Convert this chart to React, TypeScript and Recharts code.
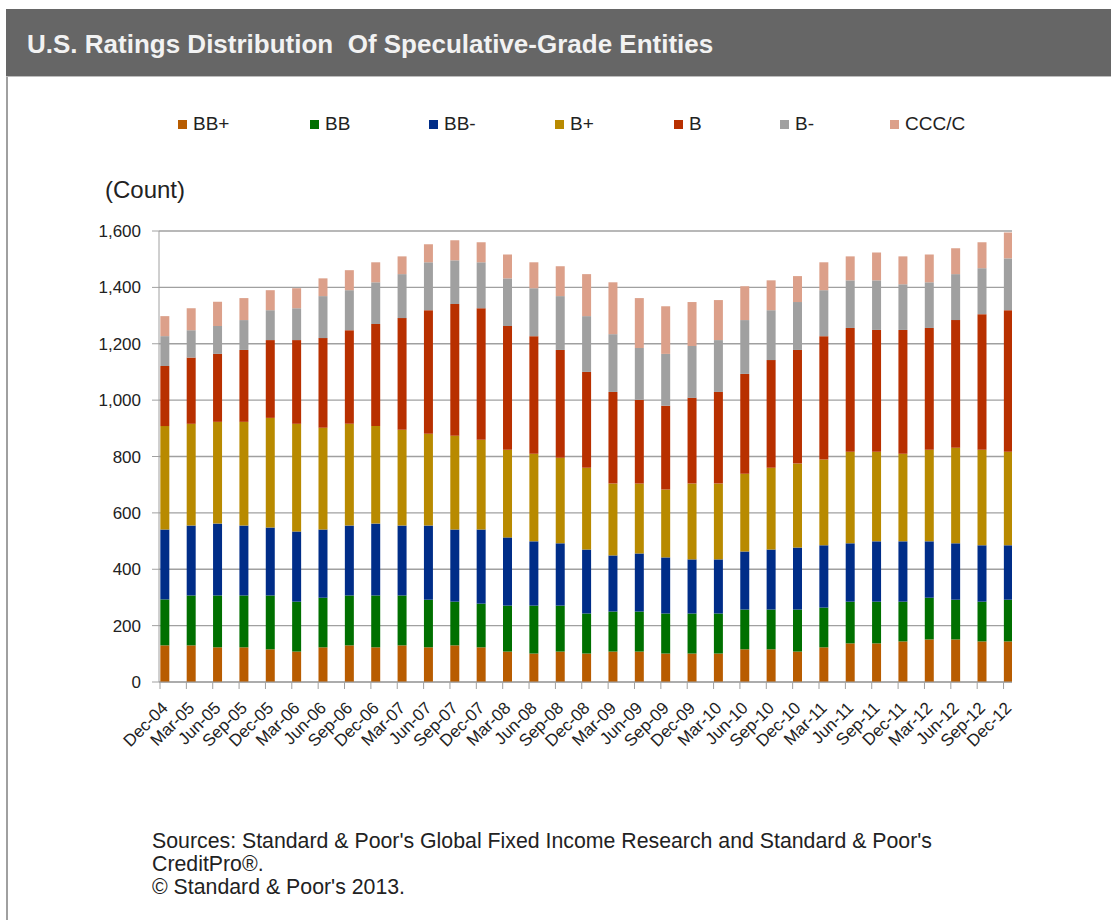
import React from "react";
import { BarChart, Bar, XAxis, YAxis, CartesianGrid, Legend } from "recharts";

const FONT = '"Liberation Sans", Arial, sans-serif';

if (typeof document !== "undefined") {
  document.body.style.margin = "0";
  document.body.style.overflow = "hidden";
  document.documentElement.style.overflow = "hidden";
}

const quarters = [
  "Dec-04", "Mar-05", "Jun-05", "Sep-05", "Dec-05", "Mar-06", "Jun-06", "Sep-06",
  "Dec-06", "Mar-07", "Jun-07", "Sep-07", "Dec-07", "Mar-08", "Jun-08", "Sep-08",
  "Dec-08", "Mar-09", "Jun-09", "Sep-09", "Dec-09", "Mar-10", "Jun-10", "Sep-10",
  "Dec-10", "Mar-11", "Jun-11", "Sep-11", "Dec-11", "Mar-12", "Jun-12", "Sep-12",
  "Dec-12",
];

const bbPlus = [130, 130, 123, 123, 116, 108, 123, 130, 123, 130, 123, 130, 123, 108, 101, 108, 101, 108, 108, 101, 101, 101, 116, 116, 108, 123, 137, 137, 144, 151, 151, 144, 144];
const bb = [163, 177, 184, 184, 191, 177, 176, 177, 184, 177, 169, 155, 155, 163, 170, 163, 142, 142, 142, 142, 142, 142, 141, 141, 149, 141, 148, 148, 141, 148, 141, 141, 148];
const bbMinus = [248, 248, 255, 248, 241, 249, 242, 248, 255, 248, 263, 256, 263, 242, 228, 221, 227, 199, 206, 199, 192, 192, 206, 213, 220, 221, 207, 214, 214, 200, 200, 200, 193];
const bPlus = [367, 361, 361, 368, 389, 382, 361, 361, 346, 340, 326, 333, 318, 311, 311, 304, 290, 255, 248, 241, 269, 269, 276, 290, 298, 304, 325, 318, 311, 325, 339, 339, 332];
const bMid = [213, 235, 241, 255, 276, 297, 318, 332, 362, 396, 438, 467, 467, 439, 417, 382, 340, 325, 297, 297, 304, 325, 354, 382, 403, 438, 439, 432, 439, 432, 453, 481, 502];
const bMinus = [106, 97, 99, 106, 106, 113, 149, 142, 148, 156, 170, 155, 163, 169, 170, 191, 198, 205, 184, 184, 184, 184, 191, 177, 170, 163, 169, 176, 162, 162, 163, 163, 184];
const ccc = [71, 78, 86, 78, 71, 71, 63, 71, 71, 63, 64, 71, 71, 85, 92, 106, 149, 184, 177, 169, 156, 142, 120, 106, 92, 99, 85, 99, 99, 99, 92, 92, 92];

const yTicks = [0, 200, 400, 600, 800, 1000, 1200, 1400, 1600];

const series = [
  { key: "bbPlus", name: "BB+", color: "#B85C00", values: bbPlus },
  { key: "bb", name: "BB", color: "#007000", values: bb },
  { key: "bbMinus", name: "BB-", color: "#002D88", values: bbMinus },
  { key: "bPlus", name: "B+", color: "#B88A00", values: bPlus },
  { key: "b", name: "B", color: "#B83000", values: bMid },
  { key: "bMinus", name: "B-", color: "#A0A0A0", values: bMinus },
  { key: "ccc", name: "CCC/C", color: "#DCA08A", values: ccc },
];

const data = quarters.map((q, i) => {
  const row: Record<string, number | string> = { idx: i, quarter: q };
  series.forEach((s) => {
    row[s.key] = s.values[i];
  });
  return row;
});

// bars are 9px wide, ticks sit at their left edge
const BAR_HALF = 0.171;
const xTicks = quarters.map((_, i) => i - BAR_HALF);

const legendLeft = [178, 310, 429, 555, 674, 780, 890];

function XTick(props: any) {
  const { x, y, payload } = props;
  const label = quarters[Math.round(payload.value + BAR_HALF)];
  return (
    <text
      x={0}
      y={0}
      transform={`translate(${x + 9},${y + 18}) rotate(-45)`}
      textAnchor="end"
      fontSize={17}
      fontFamily={FONT}
      fill="#222"
    >
      {label}
    </text>
  );
}

function LegendContent(props: any) {
  const order = series.map((s) => s.name);
  const items = [...(props.payload || [])].sort(
    (a: any, b: any) => order.indexOf(a.value) - order.indexOf(b.value)
  );
  return (
    <div style={{ position: "relative", height: 0 }}>
      {items.map((entry: any, i: number) => (
        <div
          key={entry.value}
          style={{
            position: "absolute",
            left: legendLeft[i],
            top: 113,
            display: "flex",
            alignItems: "center",
            fontFamily: FONT,
            fontSize: 19,
            color: "#222",
            whiteSpace: "nowrap",
          }}
        >
          <span
            style={{
              display: "inline-block",
              width: 9,
              height: 9,
              background: entry.color,
              marginRight: 6,
            }}
          />
          {entry.value}
        </div>
      ))}
    </div>
  );
}

export default function App() {
  return (
    <div
      style={{
        position: "relative",
        width: 1111,
        height: 920,
        background: "#fff",
        overflow: "hidden",
        fontFamily: FONT,
      }}
    >
      <div
        style={{
          position: "absolute",
          left: 6,
          top: 9,
          width: 1105,
          height: 67,
          background: "#666666",
          borderBottom: "1px solid #bdbdbd",
        }}
      />
      <div
        style={{
          position: "absolute",
          left: 27,
          top: 31,
          fontSize: 26,
          lineHeight: "26px",
          fontWeight: "bold",
          color: "#f2f2f2",
          whiteSpace: "pre",
        }}
      >
        {"U.S. Ratings Distribution  Of Speculative-Grade Entities"}
      </div>
      <div
        style={{
          position: "absolute",
          left: 6,
          top: 77,
          width: 2,
          height: 843,
          background: "#a0a0a0",
        }}
      />
      <div
        style={{
          position: "absolute",
          left: 105,
          top: 177,
          fontSize: 24,
          lineHeight: "26px",
          color: "#222",
        }}
      >
        (Count)
      </div>

      <div style={{ position: "absolute", left: 0, top: 0, width: 1111, height: 800 }}>
        <BarChart
          width={1111}
          height={800}
          data={data}
          margin={{ top: 231, right: 99, bottom: 38, left: 0 }}
        >
          <CartesianGrid vertical={false} stroke="#a0a0a0" strokeWidth={1.3} />
          <XAxis
            dataKey="idx"
            type="number"
            domain={[-0.209, 32.15]}
            ticks={xTicks}
            interval={0}
            allowDataOverflow
            height={80}
            tickSize={7}
            stroke="#a0a0a0"
            tick={<XTick />}
          />
          <YAxis
            width={159}
            domain={[0, 1600]}
            ticks={yTicks}
            tickSize={7}
            tickMargin={11}
            stroke="#a0a0a0"
            tick={{ fill: "#222", fontSize: 17, fontFamily: FONT }}
            tickFormatter={(v: number) => v.toLocaleString("en-US")}
          />
          <Legend
            verticalAlign="top"
            content={<LegendContent />}
            wrapperStyle={{ top: 0, left: 0, width: 1000, height: 0 }}
          />
          {series.map((s) => (
            <Bar
              key={s.key}
              dataKey={s.key}
              name={s.name}
              stackId="r"
              fill={s.color}
              barSize={9}
              isAnimationActive={false}
            />
          ))}
        </BarChart>
      </div>

      <div
        style={{
          position: "absolute",
          left: 152,
          top: 830,
          fontSize: 21.3,
          lineHeight: "23px",
          color: "#222",
        }}
      >
        Sources: Standard &amp; Poor's Global Fixed Income Research and Standard &amp; Poor's
        <br />
        CreditPro®.
        <br />© Standard &amp; Poor's 2013.
      </div>
    </div>
  );
}
